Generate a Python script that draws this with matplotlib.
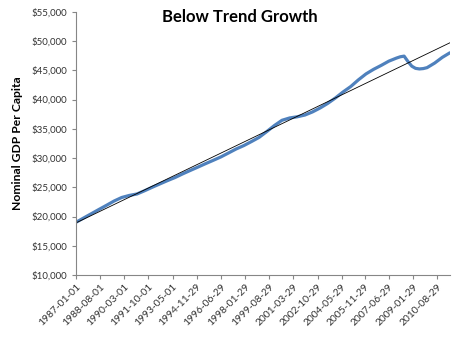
import pandas as pd
import matplotlib
matplotlib.use("Agg")
import matplotlib.pyplot as plt
import matplotlib.ticker as mticker

# values
dates = [
    "1987-01-01", "1987-07-01", "1988-01-01", "1988-07-01", "1989-01-01",
    "1989-07-01", "1990-01-01", "1990-07-01", "1991-01-01", "1991-07-01",
    "1992-01-01", "1992-07-01", "1993-01-01", "1993-07-01", "1994-01-01",
    "1994-07-01", "1995-01-01", "1995-07-01", "1996-01-01", "1996-07-01",
    "1997-01-01", "1997-07-01", "1998-01-01", "1998-07-01", "1999-01-01",
    "1999-07-01", "2000-01-01", "2000-07-01", "2001-01-01", "2001-07-01",
    "2002-01-01", "2002-07-01", "2003-01-01", "2003-07-01", "2004-01-01",
    "2004-07-01", "2005-01-01", "2005-07-01", "2006-01-01", "2006-07-01",
    "2007-01-01", "2007-07-01", "2008-01-01", "2008-04-01", "2008-07-01",
    "2008-10-01", "2009-01-01", "2009-04-01", "2009-07-01", "2009-10-01",
    "2010-01-01", "2010-07-01", "2011-01-01", "2011-07-01",
]
gdp = [
    19000, 19730, 20460, 21190, 21910,
    22640, 23250, 23600, 23850, 24400,
    25000, 25570, 26140, 26670, 27300,
    27880, 28460, 29040, 29610, 30190,
    30870, 31550, 32130, 32810, 33530,
    34510, 35550, 36450, 36850, 37050,
    37350, 37880, 38560, 39340, 40270,
    41290, 42220, 43350, 44380, 45160,
    45840, 46560, 47090, 47310, 47420,
    46500, 45700, 45330, 45230, 45290,
    45450, 46230, 47210, 47990,
]

trend_dates = ["1987-01-01", "2011-07-01"]
trend_vals = [18900, 49700]

tick_labels = [
    "1987-01-01", "1988-08-01", "1990-03-01", "1991-10-01", "1993-05-01",
    "1994-11-29", "1996-06-29", "1998-01-29", "1999-08-29", "2001-03-29",
    "2002-10-29", "2004-05-29", "2005-11-29", "2007-06-29", "2009-01-29",
    "2010-08-29",
]

df = pd.DataFrame({"date": pd.to_datetime(dates), "gdp": gdp})
trend = pd.DataFrame({"date": pd.to_datetime(trend_dates), "val": trend_vals})

plt.rcParams["font.family"] = ["Lato", "DejaVu Sans"]

fig = plt.figure(figsize=(4.6, 3.37), dpi=100)
ax = fig.add_axes([0.165, 0.184, 0.813, 0.781])

ax.plot(df["date"], df["gdp"], color="#4F81BD", linewidth=2.3, solid_capstyle="round")
ax.plot(trend["date"], trend["val"], color="black", linewidth=0.6)

ax.set_xlim(pd.Timestamp("1987-01-01"), pd.Timestamp("2011-07-01"))
ax.set_ylim(10000, 55000)
ax.yaxis.set_major_locator(mticker.MultipleLocator(5000))
ax.yaxis.set_major_formatter(mticker.FuncFormatter(lambda v, p: "${:,.0f}".format(v)))

ax.set_xticks(pd.to_datetime(tick_labels))
ax.set_xticklabels(tick_labels, rotation=45, ha="right", rotation_mode="anchor")

for s in ["top", "right"]:
    ax.spines[s].set_visible(False)
for s in ["left", "bottom"]:
    ax.spines[s].set_color("#868686")
    ax.spines[s].set_linewidth(0.8)

ax.tick_params(axis="both", colors="#868686", labelcolor="#333333", labelsize=7, length=3, width=0.8)
ax.tick_params(axis="x", pad=2, labelsize=7.4)

ax.set_ylabel("Nominal GDP Per Capita", fontsize=8.7, fontweight="bold", labelpad=6)
fig.text(0.522, 0.95, "Below Trend Growth", ha="center", va="center", fontsize=12, fontweight="bold")

fig.savefig("out.png", dpi=100)
